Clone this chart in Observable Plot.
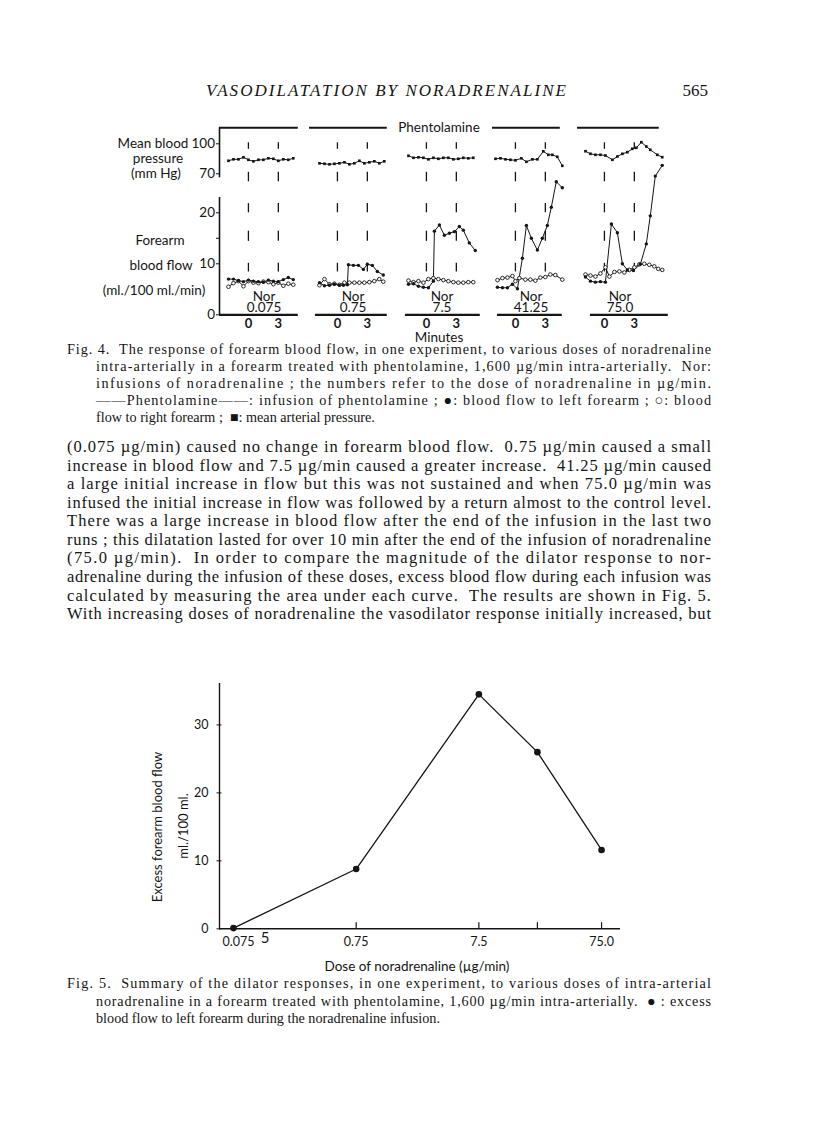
<!DOCTYPE html>
<html>
<head>
<meta charset="utf-8">
<script src="https://cdn.jsdelivr.net/npm/d3@7"></script>
<script src="https://cdn.jsdelivr.net/npm/@observablehq/plot@0.6"></script>
<style>
html, body { margin: 0; padding: 0; background: #fff; }
#page { position: relative; width: 816px; height: 1124px; overflow: hidden; background: #fff; }
#page > .layer { position: absolute; }
#page text { white-space: pre; }
</style>
</head>
<body>
<div id="page"></div>
<script>
// ---------------- Fig. 4 data ----------------
const panels = ["0.075", "0.75", "7.5", "41.25", "75.0"];          // Nor dose (µg/min) of each run
const minutesDomain = [-2.9, 6.025];
const bpDomain = [60, 116];
const flowDomain = [0, 23];

// mean blood pressure (mm Hg)
const bpTimes = [
  [-2, -1.5, -1, -0.5, 0, 0.5, 1, 1.5, 2, 2.5, 3, 3.5, 4, 4.5],
  [-1.8, -1.3, -0.8, -0.3, 0.2, 0.7, 1.2, 1.7, 2.2, 2.7, 3.2, 3.7, 4.2, 4.7],
  [-1.8, -1.3, -0.8, -0.3, 0.2, 0.7, 1.2, 1.7, 2.2, 2.7, 3.2, 3.7, 4.2, 4.7],
  [-2, -1.5, -1, -0.5, 0, 0.6, 1.1, 1.7, 2.2, 2.8, 3.3, 3.7, 4.2, 4.7],
  [-1.9, -1.4, -0.9, -0.4, 0.1, 0.8, 1.3, 1.8, 2.3, 2.8, 3.2, 3.7, 4.2, 4.6, 5.3, 5.8]
];
const bpValues = [
  [83, 84.5, 84.5, 86.5, 84, 82.5, 84, 84, 85.5, 85, 83, 84.5, 84, 85.5],
  [80.5, 80, 79.5, 80, 80.5, 81.5, 79.5, 80.5, 83, 80.5, 81.5, 82.5, 80.5, 82.5],
  [88, 86, 86.5, 86, 84.5, 86, 85, 86, 86, 84.5, 85, 86, 85.5, 86],
  [85, 85.5, 84.5, 84, 83.5, 85.5, 82, 84.5, 84.5, 92.5, 89, 89, 87, 78],
  [92.6, 90, 89, 89, 88.3, 84, 87.3, 90, 91.6, 95, 96, 101.6, 97.3, 94, 89, 86.6]
];

// blood flow to left forearm (filled circles), ml./100 ml./min
const leftTimes = [
  [-2, -1.5, -1, -0.5, 0, 0.5, 1, 1.5, 2, 2.5, 3, 3.5, 4, 4.5],
  [-1.8, -1.3, -0.8, -0.3, 0.2, 0.6, 1.0, 1.1, 1.6, 2.1, 2.6, 3.0, 3.5, 4.0, 4.6],
  [-1.8, -1.3, -0.8, -0.3, 0.2, 0.7, 0.8, 1.3, 1.8, 2.3, 2.8, 3.3, 3.7, 4.3, 4.9],
  [-1.8, -1.3, -0.8, -0.3, 0.2, 0.7, 1.1, 1.6, 2.2, 2.7, 3.2, 3.6, 4.1, 4.7],
  [-1.9, -1.4, -0.9, -0.4, 0.1, 0.7, 1.3, 1.8, 2.3, 2.9, 3.6, 4.2, 4.6, 5.1, 5.8]
];
const leftFlow = [
  [7.0, 7.0, 6.7, 6.5, 6.8, 6.6, 6.5, 6.4, 6.8, 6.6, 6.5, 6.9, 7.3, 6.9],
  [6.3, 5.7, 5.8, 6.0, 5.8, 5.8, 5.9, 9.8, 9.7, 9.7, 8.9, 9.9, 9.7, 8.5, 7.8],
  [6.0, 6.1, 5.6, 5.4, 5.3, 6.6, 16.4, 17.6, 15.6, 16.0, 16.3, 17.3, 16.6, 14.1, 12.6],
  [5.4, 5.3, 5.3, 6.0, 5.1, 11.1, 17.5, 15.0, 12.7, 15.0, 17.5, 21.1, 26.1, 24.9],
  [7.4, 6.6, 6.4, 6.5, 6.4, 17.8, 16.1, 10.0, 8.8, 8.7, 9.9, 13.9, 19.4, 27.2, 29.3]
];

// blood flow to right forearm (open circles)
const rightTimes = [
  [-2, -1.5, -1, -0.5, 0, 0.5, 1, 1.5, 2, 2.5, 3, 3.5, 4, 4.5],
  [-1.8, -1.3, -0.8, -0.3, 0.2, 0.7, 1.2, 1.7, 2.2, 2.7, 3.2, 3.7, 4.2, 4.6],
  [-1.8, -1.3, -0.8, -0.3, 0.2, 0.7, 1.2, 1.7, 2.2, 2.7, 3.2, 3.7, 4.2, 4.7],
  [-1.8, -1.3, -0.8, -0.3, 0.0, 0.4, 1.0, 1.5, 2.0, 2.5, 3.0, 3.5, 4.0, 4.7],
  [-1.9, -1.4, -0.9, -0.4, 0.1, 0.5, 1.0, 1.5, 2.0, 2.5, 3.0, 3.5, 4.0, 4.5, 5.0, 5.4, 5.8]
];
const rightFlow = [
  [5.5, 6.2, 6.6, 5.6, 6.6, 6.3, 6.2, 6.5, 6.4, 6.0, 6.3, 5.7, 6.1, 5.9],
  [5.8, 7.0, 6.0, 6.1, 5.9, 6.3, 6.3, 6.3, 6.3, 6.3, 6.4, 6.6, 7.0, 6.5],
  [6.7, 6.4, 6.6, 6.3, 7.0, 7.2, 7.0, 6.8, 6.6, 6.4, 6.3, 6.3, 6.4, 6.4],
  [6.8, 7.2, 7.3, 7.6, 6.6, 7.2, 6.9, 6.9, 6.7, 7.3, 7.4, 7.9, 7.8, 6.9],
  [7.9, 7.7, 7.5, 8.1, 9.3, 7.5, 8.4, 8.5, 8.3, 8.8, 9.3, 9.9, 10.0, 9.8, 9.5, 9.0, 8.8]
];

// phentolamine infusion bars (minutes) and time-base bars
const phentolaminePanels = ["0.075", "0.75", "41.25", "75.0"];
const phentolamineStart = [-2.9, -2.8, -2.3, -2.7];
const phentolamineEnd = [5.0, 5.0, 4.5, 5.5];
const baseStart = [-2.9, -2.2, -2.1, -1.8, -1.4];
const baseEnd = [5.0, 5.0, 5.4, 4.7, 6.4];

// short vertical markers at 0 and 3 min
const markMinutes = [0, 3];
const bpMarkSpans = [[94.5, 101], [62, 71.5]];
const flowMarkSpans = [[20, 21.8], [14.4, 16.4], [8.4, 10.1]];

// ---------------- Fig. 5 data ----------------
const fig5Doses = ["0.075", "0.75", "7.5", "41.25", "75.0"];
const fig5AxisPosition = [0.075, 0.75, 7.5, 22.5, 75];   // where each dose is drawn on the printed log axis
const fig5TickLabels = ["0.075", "0.75", "7.5", "", "75.0"];
const fig5Excess = [0.1, 8.8, 34.5, 26.0, 11.6];
const fig5XDomain = [0.0577, 107];
const fig5YDomain = [0, 36.1];
const fig5YTicks = [0, 10, 20, 30];

// ---------------- page text ----------------
const headerTitle = "VASODILATATION BY NORADRENALINE";
const pageNumber = "565";
const fig4Caption = [
  "Fig. 4.  The response of forearm blood flow, in one experiment, to various doses of noradrenaline",
  "intra-arterially in a forearm treated with phentolamine, 1,600 \u00b5g/min intra-arterially.  Nor:",
  "infusions of noradrenaline ; the numbers refer to the dose of noradrenaline in \u00b5g/min.",
  "\u2014\u2014Phentolamine\u2014\u2014: infusion of phentolamine ; \u25cf: blood flow to left forearm ; \u25cb: blood",
  "flow to right forearm ;  \u25a0: mean arterial pressure."
];
const bodyText = [
  "(0.075 \u00b5g/min) caused no change in forearm blood flow.  0.75 \u00b5g/min caused a small",
  "increase in blood flow and 7.5 \u00b5g/min caused a greater increase.  41.25 \u00b5g/min caused",
  "a large initial increase in flow but this was not sustained and when 75.0 \u00b5g/min was",
  "infused the initial increase in flow was followed by a return almost to the control level.",
  "There was a large increase in blood flow after the end of the infusion in the last two",
  "runs ; this dilatation lasted for over 10 min after the end of the infusion of noradrenaline",
  "(75.0 \u00b5g/min).  In order to compare the magnitude of the dilator response to nor-",
  "adrenaline during the infusion of these doses, excess blood flow during each infusion was",
  "calculated by measuring the area under each curve.  The results are shown in Fig. 5.",
  "With increasing doses of noradrenaline the vasodilator response initially increased, but"
];
const fig5Caption = [
  "Fig. 5.  Summary of the dilator responses, in one experiment, to various doses of intra-arterial",
  "noradrenaline in a forearm treated with phentolamine, 1,600 \u00b5g/min intra-arterially.  \u25cf : excess",
  "blood flow to left forearm during the noradrenaline infusion."
];

// ---------------- drawing ----------------
const ink = "#151515";
const sans = "Lato, 'Open Sans', 'DejaVu Sans', sans-serif";
const serif = "'Liberation Serif', 'Times New Roman', serif";

const page = d3.select("#page");
const textLayer = page.append("svg").attr("class", "layer")
  .attr("width", 816).attr("height", 1124).style("left", "0px").style("top", "0px");

function addText(s, x, y, o = {}) {
  const t = textLayer.append("text").attr("x", x).attr("y", y).text(s)
    .attr("font-family", o.family || serif).attr("font-size", o.size || 16)
    .attr("fill", ink).attr("dominant-baseline", "central");
  if (o.italic) t.attr("font-style", "italic");
  if (o.anchor) t.attr("text-anchor", o.anchor);
  if (o.width) t.attr("textLength", o.width).attr("lengthAdjust", "spacing");
  if (o.rotate) t.attr("transform", `rotate(-90 ${x} ${y})`);
  return t;
}

// running head
addText(headerTitle, 206, 90, {size: 17, italic: true, width: 360});
addText(pageNumber, 708, 90, {size: 17, anchor: "end"});

// Fig. 4 side labels
addText("Mean blood", 153, 143, {family: sans, size: 13.5, anchor: "middle"});
addText("pressure", 158, 158, {family: sans, size: 13.5, anchor: "middle"});
addText("(mm Hg)", 156, 173, {family: sans, size: 13.5, anchor: "middle"});
addText("Forearm", 160, 240, {family: sans, size: 13.5, anchor: "middle"});
addText("blood flow", 161, 265, {family: sans, size: 13.5, anchor: "middle"});
addText("(ml./100 ml./min)", 154, 290, {family: sans, size: 13.5, anchor: "middle"});
addText("Minutes", 439, 337, {family: sans, size: 13.5, anchor: "middle"});

// Fig. 4 caption (hanging indent)
const capY4 = [349, 366, 383, 400, 417];
fig4Caption.forEach((s, i) => {
  const last = i === fig4Caption.length - 1;
  addText(s, i === 0 ? 67 : 96, capY4[i], {size: 14.2, width: last ? null : (i === 0 ? 644 : 615)});
});

// body text
const bodyY = [446, 465, 483.5, 502, 520.5, 539, 557.5, 576.5, 595, 613.5];
bodyText.forEach((s, i) => addText(s, 67, bodyY[i], {size: 16.5, width: 644}));

// Fig. 5 labels
addText("Excess forearm blood flow", 157, 827, {family: sans, size: 13, anchor: "middle", rotate: true});
addText("ml./100 ml.", 183, 826, {family: sans, size: 13, anchor: "middle", rotate: true});
addText("Dose of noradrenaline (\u00b5g/min)", 417, 966, {family: sans, size: 13.5, anchor: "middle"});
addText("5", 265, 937, {family: sans, size: 15, anchor: "middle"});

// Fig. 5 caption (hanging indent)
const capY5 = [983, 1000.5, 1018];
fig5Caption.forEach((s, i) => {
  const last = i === fig5Caption.length - 1;
  addText(s, i === 0 ? 67 : 96, capY5[i], {size: 14.2, width: last ? null : (i === 0 ? 644 : 615)});
});

function place(el, left, top) {
  const d = page.append("div").attr("class", "layer").style("left", left + "px").style("top", top + "px");
  d.node().appendChild(el);
}

// ---- Fig. 4 rows ----
const bpRows = panels.flatMap((p, i) => bpTimes[i].map((t, j) => ({panel: p, t, v: bpValues[i][j]})));
const leftRows = panels.flatMap((p, i) => leftTimes[i].map((t, j) => ({panel: p, t, v: leftFlow[i][j]})));
const rightRows = panels.flatMap((p, i) => rightTimes[i].map((t, j) => ({panel: p, t, v: rightFlow[i][j]})));
const bpMarks = panels.flatMap(p => markMinutes.flatMap(t => bpMarkSpans.map(([a, b]) => ({panel: p, t, a, b}))));
const flowMarks = panels.flatMap(p => markMinutes.flatMap(t => flowMarkSpans.map(([a, b]) => ({panel: p, t, a, b}))));
const phentRows = phentolaminePanels.map((p, i) => ({panel: p, a: phentolamineStart[i], b: phentolamineEnd[i]}));
const baseRows = panels.map((p, i) => ({panel: p, a: baseStart[i], b: baseEnd[i]}));
const minuteLabelRows = panels.flatMap(p => markMinutes.map(t => ({panel: p, t})));

const plotStyle = {background: "transparent", fontFamily: sans, fontSize: "13.5px", color: ink, overflow: "visible"};

const bpPlot = Plot.plot({
  width: 600, height: 75,
  marginLeft: 118, marginRight: 35.75, marginTop: 12.3, marginBottom: 6.7,
  style: plotStyle,
  fx: {domain: panels, padding: 0, axis: null, label: null},
  x: {domain: minutesDomain, axis: null, label: null},
  y: {domain: bpDomain, axis: null, label: null},
  marks: [
    Plot.ruleX(bpMarks, {fx: "panel", x: "t", y1: "a", y2: "b", stroke: ink, strokeWidth: 1.3}),
    Plot.line(bpRows, {fx: "panel", x: "t", y: "v", stroke: ink, strokeWidth: 1}),
    Plot.dot(bpRows, {fx: "panel", x: "t", y: "v", symbol: "square", fill: ink, r: 1.5}),
    Plot.ruleY(phentRows, {fx: "panel", y: bpDomain[1], x1: "a", x2: "b", stroke: ink, strokeWidth: 2}),
    Plot.text(["Phentolamine"], {fx: ["7.5"], frameAnchor: "top", lineAnchor: "middle", dx: -3, fill: ink, fontSize: 13.5}),
    Plot.ruleX([minutesDomain[0]], {fx: [panels[0]], y1: 66, y2: bpDomain[1], stroke: ink, strokeWidth: 1.6}),
    Plot.axisY({ticks: [70, 100], tickSize: 3, tickPadding: 1.5, label: null, fontSize: 13.5, stroke: ink, fill: ink})
  ]
});
place(bpPlot, 100, 115);

const flowPlot = Plot.plot({
  width: 600, height: 235,
  marginLeft: 118, marginRight: 35.75, marginTop: 82, marginBottom: 35.7,
  style: plotStyle,
  fx: {domain: panels, padding: 0, axis: null, label: null},
  x: {domain: minutesDomain, axis: null, label: null},
  y: {domain: flowDomain, axis: null, label: null},
  marks: [
    Plot.ruleX(flowMarks, {fx: "panel", x: "t", y1: "a", y2: "b", stroke: ink, strokeWidth: 1.3}),
    Plot.line(rightRows, {fx: "panel", x: "t", y: "v", stroke: ink, strokeWidth: 1}),
    Plot.line(leftRows, {fx: "panel", x: "t", y: "v", stroke: ink, strokeWidth: 1}),
    Plot.dot(rightRows, {fx: "panel", x: "t", y: "v", fill: "white", stroke: ink, strokeWidth: 0.9, r: 1.8}),
    Plot.dot(leftRows, {fx: "panel", x: "t", y: "v", fill: ink, r: 1.7}),
    Plot.ruleY(baseRows, {fx: "panel", y: 0, x1: "a", x2: "b", stroke: ink, strokeWidth: 2.2}),
    Plot.ruleX([minutesDomain[0]], {fx: [panels[0]], y1: 0, y2: flowDomain[1], stroke: ink, strokeWidth: 1.6}),
    Plot.axisY({ticks: [0, 10, 15, 20], tickFormat: d => (d === 15 ? "" : d), tickSize: 3, tickPadding: 1.5, label: null, fontSize: 13.5, stroke: ink, fill: ink}),
    Plot.text(minuteLabelRows, {fx: "panel", x: "t", text: d => String(d.t), frameAnchor: "bottom", lineAnchor: "top", dy: 3.5, fontSize: 13, fontWeight: "bold", fill: ink}),
    Plot.text(panels, {fx: d => d, text: d => `Nor\n${d}`, frameAnchor: "bottom", lineAnchor: "bottom", dy: -3, lineHeight: 0.8, fontSize: 13.5, fill: ink})
  ]
});
place(flowPlot, 100, 115);

// ---- Fig. 5 ----
const fig5Rows = fig5Doses.map((d, i) => ({dose: d, pos: fig5AxisPosition[i], excess: fig5Excess[i]}));
const fig5TickRows = fig5AxisPosition.map((p, i) => ({pos: p, label: fig5TickLabels[i]}));

const fig5 = Plot.plot({
  width: 560, height: 320,
  marginLeft: 119, marginRight: 40, marginTop: 13, marginBottom: 61.7,
  style: {background: "transparent", fontFamily: sans, fontSize: "12.5px", color: ink, overflow: "visible"},
  x: {type: "log", domain: fig5XDomain, axis: null, label: null},
  y: {domain: fig5YDomain, axis: null, label: null},
  marks: [
    Plot.ruleX([fig5XDomain[0]], {stroke: ink, strokeWidth: 1.4}),
    Plot.ruleY([0], {stroke: ink, strokeWidth: 1.4}),
    Plot.axisY({ticks: fig5YTicks, tickSize: 5, dx: 2.5, tickPadding: 8.5, label: null, fontSize: 12.5, stroke: ink, fill: ink}),
    Plot.ruleX(fig5TickRows.slice(1), {x: "pos", y1: 0, y2: 0.9, stroke: ink, strokeWidth: 1.2}),
    Plot.text(fig5TickRows.slice(0, 1), {x: "pos", text: "label", frameAnchor: "bottom", lineAnchor: "top", dy: 8, dx: 5, fontSize: 12.5, fill: ink}),
    Plot.text(fig5TickRows.slice(1), {x: "pos", text: "label", frameAnchor: "bottom", lineAnchor: "top", dy: 8, fontSize: 12.5, fill: ink}),
    Plot.line(fig5Rows, {x: "pos", y: "excess", stroke: ink, strokeWidth: 1.3}),
    Plot.dot(fig5Rows, {x: "pos", y: "excess", fill: ink, r: 3.3})
  ]
});
place(fig5, 100, 670);
</script>
</body>
</html>
